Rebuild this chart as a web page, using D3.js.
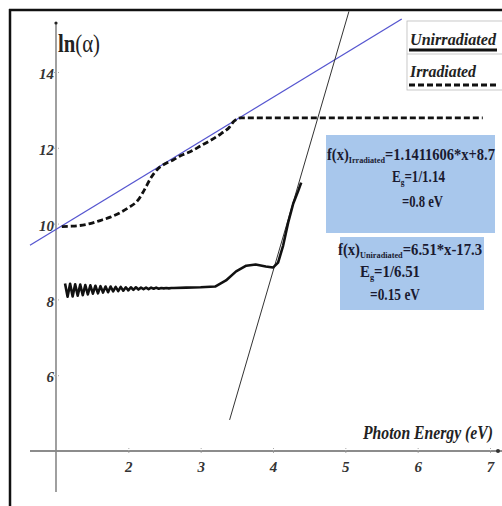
<!DOCTYPE html>
<html>
<head>
<meta charset="utf-8">
<script src="https://cdn.jsdelivr.net/npm/d3@7"></script>
<style>
  body { margin: 0; background: #fff; }
  svg { display: block; }
  text { font-family: "Liberation Serif", "DejaVu Serif", serif; }
</style>
</head>
<body>
<svg id="chart" width="502" height="506"></svg>
<script>
// tick labels
var xTicks = [2, 3, 4, 5, 6, 7];
var yTicks = [6, 8, 10, 12, 14];

// ln(alpha) vs photon energy
var unirradiated = [
    [1.125, 8.42], [1.160, 8.07], [1.195, 8.41], [1.230, 8.08], [1.265, 8.40],
    [1.300, 8.10], [1.335, 8.39], [1.370, 8.11], [1.405, 8.38], [1.440, 8.13],
    [1.475, 8.37], [1.510, 8.15], [1.545, 8.36], [1.580, 8.16], [1.615, 8.35],
    [1.650, 8.18], [1.685, 8.34], [1.720, 8.19], [1.755, 8.34], [1.790, 8.21],
    [1.825, 8.33], [1.860, 8.22], [1.895, 8.33], [1.930, 8.23], [1.965, 8.32],
    [2.000, 8.24], [2.035, 8.32], [2.070, 8.25], [2.105, 8.32], [2.140, 8.26],
    [2.175, 8.31], [2.210, 8.27], [2.245, 8.31], [2.280, 8.27], [2.315, 8.31],
    [2.350, 8.28], [2.385, 8.31], [2.420, 8.28], [2.455, 8.30], [2.490, 8.29],
    [2.525, 8.30], [2.560, 8.29], [2.595, 8.30], [2.630, 8.30],
    [2.80, 8.31], [3.00, 8.32], [3.20, 8.34], [3.35, 8.50], [3.49, 8.74],
    [3.63, 8.89], [3.76, 8.92], [3.90, 8.87], [4.00, 8.84], [4.07, 8.97],
    [4.14, 9.42], [4.21, 10.03], [4.28, 10.53], [4.35, 10.87], [4.39, 11.08]
];
var irradiated = [
    [1.08, 9.92], [1.20, 9.93], [1.33, 9.95], [1.47, 10.00], [1.61, 10.08],
    [1.75, 10.17], [1.89, 10.29], [2.01, 10.43], [2.13, 10.61], [2.21, 10.85],
    [2.31, 11.20], [2.41, 11.45], [2.51, 11.58], [2.62, 11.68], [2.72, 11.79],
    [2.86, 11.90], [3.00, 12.05], [3.14, 12.20], [3.28, 12.37], [3.40, 12.55],
    [3.46, 12.70], [3.56, 12.79], [6.90, 12.79]
];
// fitted straight lines (end points)
var fitIrradiated = [[0.64, 9.43], [5.78, 15.40]];
var fitUnirradiated = [[3.40, 4.82], [5.05, 15.60]];

var svg = d3.select("#chart");

var x = d3.scaleLinear().domain([1, 7]).range([56, 490]),
    y = d3.scaleLinear().domain([4, 14]).range([451, 72]);

var line = d3.line()
    .x(function (d) { return x(d[0]); })
    .y(function (d) { return y(d[1]); });

// outer frame (left and top only visible)
svg.append("line").attr("x1", 10).attr("x2", 10).attr("y1", 9).attr("y2", 506)
    .attr("stroke", "#111").attr("stroke-width", 2.5);
svg.append("line").attr("x1", 9).attr("x2", 502).attr("y1", 10).attr("y2", 10)
    .attr("stroke", "#111").attr("stroke-width", 2.5);

// axes lines
svg.append("line").attr("x1", 30).attr("x2", 502).attr("y1", y(4)).attr("y2", y(4))
    .attr("stroke", "#666").attr("stroke-width", 1.6);
svg.append("line").attr("x1", x(1)).attr("x2", x(1)).attr("y1", 23).attr("y2", 492)
    .attr("stroke", "#888").attr("stroke-width", 1.6);
svg.append("circle").attr("cx", x(1)).attr("cy", 23).attr("r", 1.6).attr("fill", "#222");
svg.append("circle").attr("cx", 498).attr("cy", y(4)).attr("r", 2).attr("fill", "#333");

var xAxis = svg.append("g")
    .attr("transform", "translate(0," + (y(4) - 3) + ")")
    .call(d3.axisBottom(x).tickValues(xTicks).tickSize(6).tickPadding(6).tickFormat(d3.format("d")));
xAxis.select(".domain").remove();
xAxis.selectAll(".tick line").attr("stroke", "#aaa").attr("stroke-dasharray", "1,1");
xAxis.selectAll(".tick text")
    .attr("dy", "0.8em")
    .style("font-family", "Liberation Serif")
    .style("font-style", "italic").style("font-weight", "bold")
    .style("font-size", "15px").attr("fill", "#333");

var yAxis = svg.append("g")
    .attr("transform", "translate(" + (x(1) + 3) + ",0)")
    .call(d3.axisLeft(y).tickValues(yTicks).tickSize(6).tickPadding(-1).tickFormat(d3.format("d")));
yAxis.select(".domain").remove();
yAxis.selectAll(".tick line").attr("stroke", "#aaa").attr("stroke-dasharray", "1,1");
yAxis.selectAll(".tick text")
    .attr("dy", "0.45em")
    .style("font-family", "Liberation Serif")
    .style("font-style", "italic").style("font-weight", "bold")
    .style("font-size", "15px").attr("fill", "#333");

// axis titles
var yl = svg.append("text").attr("x", 58).attr("y", 52)
    .attr("textLength", 42).attr("lengthAdjust", "spacingAndGlyphs")
    .style("font-size", "25px").attr("fill", "#222");
yl.append("tspan").style("font-weight", "bold").text("ln");
yl.append("tspan").text("(α)");

svg.append("text").attr("x", 363).attr("y", 439)
    .attr("textLength", 130).attr("lengthAdjust", "spacingAndGlyphs")
    .style("font-size", "19px").style("font-style", "italic").style("font-weight", "bold")
    .attr("fill", "#222").text("Photon Energy (eV)");

// fitted lines
svg.append("path").datum(fitIrradiated).attr("d", line)
    .attr("fill", "none").attr("stroke", "#5656d0").attr("stroke-width", 1.3);
svg.append("path").datum(fitUnirradiated).attr("d", line)
    .attr("fill", "none").attr("stroke", "#333").attr("stroke-width", 1);

// data curves
svg.append("path").datum(unirradiated).attr("d", line)
    .attr("fill", "none").attr("stroke", "#111").attr("stroke-width", 2.6)
    .attr("stroke-linejoin", "round");
svg.append("path").datum(irradiated).attr("d", line.curve(d3.curveMonotoneX))
    .attr("fill", "none").attr("stroke", "#111").attr("stroke-width", 2.8)
    .attr("stroke-dasharray", "6,3");
line.curve(d3.curveLinear);

// annotation boxes
function note(bx, by, bw, bh, rows) {
    svg.append("rect").attr("x", bx).attr("y", by).attr("width", bw).attr("height", bh)
        .attr("fill", "#a8c7ec");
    rows.forEach(function (r) {
        var t = svg.append("text").attr("x", r.x).attr("y", r.y)
            .attr("textLength", r.w).attr("lengthAdjust", "spacingAndGlyphs")
            .style("font-size", "16px").style("font-weight", "bold").attr("fill", "#1a1a30");
        r.parts.forEach(function (p) {
            var s = t.append("tspan").text(p[0]);
            if (p[1]) { s.style("font-size", "9px").attr("dy", 3); }
            else if (p[2]) { s.attr("dy", -3); }
        });
    });
}

note(326, 135, 169, 98, [
    {x: 327, y: 160, w: 168, parts: [["f(x)"], ["Irradiated", true], ["=1.1411606*x+8.7", false, true]]},
    {x: 392, y: 182, w: 53, parts: [["E"], ["g", true], ["=1/1.14", false, true]]},
    {x: 402, y: 207, w: 41, parts: [["=0.8 eV"]]}
]);
note(340, 237, 144, 73, [
    {x: 338, y: 255, w: 144, parts: [["f(x)"], ["Uniradiated", true], ["=6.51*x-17.3", false, true]]},
    {x: 360, y: 277, w: 60, parts: [["E"], ["g", true], ["=1/6.51", false, true]]},
    {x: 370, y: 300, w: 50, parts: [["=0.15 eV"]]}
]);

// legend
var lg = svg.append("g");
lg.append("rect").attr("x", 407).attr("y", 21).attr("width", 100).attr("height", 69)
    .attr("fill", "none").attr("stroke", "#bbb").attr("stroke-width", 0.8);
lg.append("line").attr("x1", 407).attr("x2", 502).attr("y1", 54).attr("y2", 54)
    .attr("stroke", "#bbb").attr("stroke-width", 0.8);
lg.append("text").attr("x", 410).attr("y", 45)
    .attr("textLength", 86).attr("lengthAdjust", "spacingAndGlyphs")
    .style("font-size", "17px").style("font-style", "italic").style("font-weight", "bold")
    .attr("fill", "#222").text("Unirradiated");
lg.append("line").attr("x1", 409).attr("x2", 497).attr("y1", 50).attr("y2", 50)
    .attr("stroke", "#111").attr("stroke-width", 3);
lg.append("text").attr("x", 410).attr("y", 77)
    .attr("textLength", 66).attr("lengthAdjust", "spacingAndGlyphs")
    .style("font-size", "17px").style("font-style", "italic").style("font-weight", "bold")
    .attr("fill", "#222").text("Irradiated");
lg.append("line").attr("x1", 409).attr("x2", 497).attr("y1", 85).attr("y2", 85)
    .attr("stroke", "#111").attr("stroke-width", 3).attr("stroke-dasharray", "6,3");
</script>
</body>
</html>
